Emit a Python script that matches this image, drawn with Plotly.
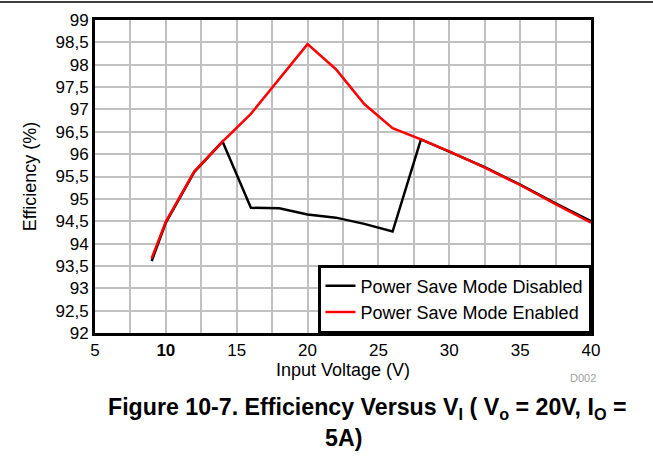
import plotly.graph_objects as go

vin = [9, 10, 12, 14, 16, 18, 20, 22, 24, 26, 28, 30, 32.5, 35, 37.5, 40]
eff_disabled = [93.61, 94.47, 95.6, 96.28, 94.80, 94.79, 94.65, 94.58, 94.44, 94.27, 96.33, 96.06, 95.71, 95.32, 94.90, 94.50]
eff_enabled = [93.67, 94.49, 95.61, 96.28, 96.90, 97.68, 98.46, 97.90, 97.12, 96.58, 96.33, 96.06, 95.70, 95.31, 94.88, 94.47]

x_tickvals = [5, 7.5, 10, 12.5, 15, 17.5, 20, 22.5, 25, 27.5, 30, 32.5, 35, 37.5, 40]
x_ticktext = ["5", "", "<b>10</b>", "", "15", "", "20", "", "25", "", "30", "", "35", "", "40"]
y_tickvals = [92, 92.5, 93, 93.5, 94, 94.5, 95, 95.5, 96, 96.5, 97, 97.5, 98, 98.5, 99]
y_ticktext = ["92", "92,5", "93", "93,5", "94", "94,5", "95", "95,5", "96", "96,5", "97", "97,5", "98", "98,5", "99"]

FONT = "Liberation Sans, Arial, sans-serif"

fig = go.Figure()
fig.add_trace(go.Scatter(x=vin, y=eff_disabled, mode="lines", name="Power Save Mode Disabled",
                         line=dict(color="black", width=2.5)))
fig.add_trace(go.Scatter(x=vin, y=eff_enabled, mode="lines", name="Power Save Mode Enabled",
                         line=dict(color="#ff0000", width=2.5)))

fig.update_layout(
    width=653, height=459,
    margin=dict(l=95, r=62, t=20, b=126),
    paper_bgcolor="white", plot_bgcolor="white",
    font=dict(family=FONT, size=17, color="black"),
    showlegend=True,
    legend=dict(x=1, y=0, xanchor="right", yanchor="bottom",
                bgcolor="white", bordercolor="black", borderwidth=2.5,
                font=dict(size=18), tracegroupgap=0),
    xaxis=dict(range=[5, 40], tickvals=x_tickvals, ticktext=x_ticktext,
               showgrid=True, gridcolor="#c0c0c0", gridwidth=1.5,
               showline=True, linecolor="black", linewidth=3, mirror=True,
               ticks="", zeroline=False, tickfont=dict(size=17),
               title=dict(text="Input Voltage (V)", font=dict(size=18), standoff=0)),
    yaxis=dict(range=[92, 99], tickvals=y_tickvals, ticktext=y_ticktext,
               showgrid=True, gridcolor="#c0c0c0", gridwidth=1.5,
               showline=True, linecolor="black", linewidth=3, mirror=True,
               ticks="", zeroline=False, tickfont=dict(size=17),
               title=dict(text="Efficiency (%)", font=dict(size=18), standoff=15)),
)

fig.add_shape(type="line", xref="paper", yref="paper", x0=-95/496, x1=(653-95)/496,
              y0=1 + 18/313, y1=1 + 18/313, line=dict(color="black", width=1.5))

fig.add_annotation(text="D002", xref="paper", yref="paper", x=(598-95)/496, y=-(378-333)/313,
                   xanchor="right", yanchor="middle", showarrow=False,
                   font=dict(size=11, color="#a0a0a0"))
fig.add_annotation(text="<b>Figure 10-7. Efficiency Versus V<sub>I</sub> ( V<sub>o</sub> = 20V, I<sub>O</sub> =</b>",
                   xref="paper", yref="paper", x=(367-95)/496, y=-(408-333)/313,
                   xanchor="center", yanchor="middle", showarrow=False,
                   font=dict(size=23.2, color="black"))
fig.add_annotation(text="<b>5A)</b>",
                   xref="paper", yref="paper", x=(343-95)/496, y=-(438-333)/313,
                   xanchor="center", yanchor="middle", showarrow=False,
                   font=dict(size=23.2, color="black"))

fig.write_html("out.html", config={"displayModeBar": False},
               post_script="document.body.style.margin='0';")
